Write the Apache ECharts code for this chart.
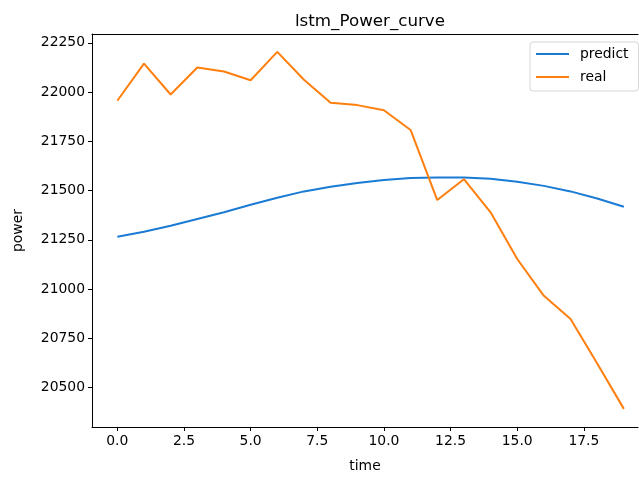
<!DOCTYPE html>
<html>
<head>
<meta charset="utf-8">
<script src="https://cdn.jsdelivr.net/npm/echarts@6/dist/echarts.min.js"></script>
<style>
  html, body { margin: 0; padding: 0; background: #fff; }
  #chart { width: 639px; height: 478px; }
</style>
</head>
<body>
<div id="chart"></div>
<script>
// Time steps 0..19
const timeSteps = [0,1,2,3,4,5,6,7,8,9,10,11,12,13,14,15,16,17,18,19];

// LSTM prediction
const predictValues = [21266, 21291, 21322, 21356, 21390, 21428, 21464, 21496, 21520, 21539,
                       21554, 21564, 21567, 21566, 21560, 21545, 21524, 21496, 21460, 21418];

// Measured power
const realValues = [21956, 22145, 21988, 22125, 22105, 22060, 22204, 22063, 21946, 21934,
                    21908, 21808, 21452, 21558, 21390, 21153, 20966, 20848, 20622, 20392];

// Tick labels
const xTicks = [0, 2.5, 5, 7.5, 10, 12.5, 15, 17.5];
const yTicks = [20500, 20750, 21000, 21250, 21500, 21750, 22000, 22250];

const FONT = 'DejaVu Sans';
const toPairs = (vals) => timeSteps.map((t, i) => [t, vals[i]]);

const chart = echarts.init(document.getElementById('chart'), null, { renderer: 'canvas' });

chart.setOption({
  animation: false,
  backgroundColor: '#ffffff',
  title: {
    text: 'lstm_Power_curve',
    left: 365,
    textAlign: 'center',
    top: 8,
    textStyle: { fontFamily: FONT, fontSize: 16.7, fontWeight: 'normal', color: '#000' }
  },
  legend: {
    orient: 'vertical',
    left: 530,
    top: 42,
    padding: [5, 10, 7, 6],
    itemGap: 9,
    itemWidth: 33,
    itemHeight: 2,
    icon: 'rect',
    backgroundColor: 'rgba(255,255,255,0.8)',
    borderColor: '#d6d6d6',
    borderWidth: 1,
    borderRadius: 3,
    textStyle: { fontFamily: FONT, fontSize: 13.9, color: '#000', padding: [0, 0, 0, 6] },
    data: ['predict', 'real']
  },
  grid: { left: 92, right: 1, top: 34, bottom: 47 },
  xAxis: [{
    type: 'value',
    min: -0.95,
    max: 19.53,
    name: 'time',
    nameLocation: 'middle',
    nameGap: 32,
    nameTextStyle: { fontFamily: FONT, fontSize: 13.9, color: '#000' },
    axisLine: { show: true, onZero: false, lineStyle: { color: '#000', width: 1 } },
    axisTick: { show: true, length: 4, lineStyle: { color: '#000' }, customValues: xTicks },
    axisLabel: {
      fontFamily: FONT, fontSize: 13.9, color: '#000', margin: 7,
      customValues: xTicks,
      formatter: (v) => Number(v).toFixed(1)
    },
    splitLine: { show: false }
  }, {
    type: 'value',
    position: 'top',
    min: -0.95,
    max: 19.53,
    axisLine: { show: true, onZero: false, lineStyle: { color: '#000', width: 1 } },
    axisTick: { show: false },
    axisLabel: { show: false },
    splitLine: { show: false }
  }],
  yAxis: {
    type: 'value',
    min: 20300,
    max: 22295,
    name: 'power',
    nameLocation: 'middle',
    nameGap: 67,
    nameTextStyle: { fontFamily: FONT, fontSize: 13.9, color: '#000' },
    axisLine: { show: true, onZero: false, lineStyle: { color: '#000', width: 1 } },
    axisTick: { show: true, length: 4, lineStyle: { color: '#000' }, customValues: yTicks },
    axisLabel: {
      fontFamily: FONT, fontSize: 13.9, color: '#000', margin: 7,
      customValues: yTicks,
      formatter: (v) => String(v)
    },
    splitLine: { show: false }
  },
  series: [{
    name: 'predict',
    type: 'line',
    data: toPairs(predictValues),
    showSymbol: false,
    symbol: 'none',
    lineStyle: { color: '#1a7bd4', width: 2 },
    itemStyle: { color: '#1a7bd4' },
    z: 3
  }, {
    name: 'real',
    type: 'line',
    data: toPairs(realValues),
    showSymbol: false,
    symbol: 'none',
    lineStyle: { color: '#ff7f0e', width: 2 },
    itemStyle: { color: '#ff7f0e' },
    z: 4
  }]
});
</script>
</body>
</html>
